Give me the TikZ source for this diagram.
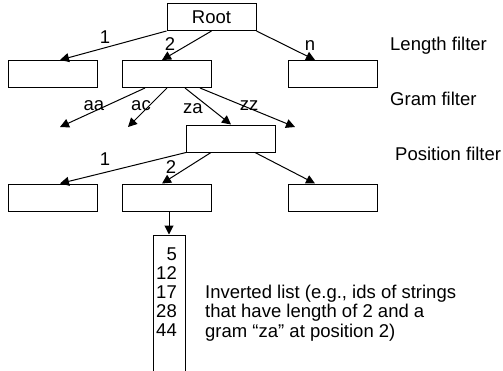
\documentclass[tikz,border=0pt]{standalone}
\usepackage{fontspec}
\setmainfont{Liberation Sans}
\usetikzlibrary{arrows.meta}
\begin{document}
\begin{tikzpicture}[x=1pt,y=-1pt,
  box/.style={draw,line width=1pt,minimum width=89pt,minimum height=27pt,inner sep=0pt},
  lbl/.style={anchor=base,inner sep=0pt},
  arr/.style={line width=1pt,-{Triangle[length=9pt,width=9pt]}},
  font=\fontsize{18.5}{19.5}\selectfont]
  \useasboundingbox (0,0) rectangle (503,370);

  % filter nodes
  \node[box] (root) at (211.5,17) {Root};
  \node[box] (l1) at (52.5,74) {};
  \node[box] (l2) at (167,74) {};
  \node[box] (ln) at (332.5,74) {};
  \node[box] (pos) at (231,138.5) {};
  \node[box] (p1) at (52.5,197.5) {};
  \node[box] (p2) at (167,197.5) {};
  \node[box] (p3) at (332.5,197.5) {};
  \node[draw,line width=1pt,minimum width=32pt,minimum height=150pt] (list) at (169,310) {};

  % free ends of the gram arrows
  \coordinate (gaa) at (60,127);
  \coordinate (gac) at (128,127);
  \coordinate (gzz) at (295,127);

  \draw[arr] (root.south west) -- ([xshift=7.5pt]l1.north);
  \draw[arr] (root.south) -- ([xshift=-5pt]l2.north);
  \draw[arr] (root.south east) -- ([xshift=-17.5pt]ln.north);

  \draw[arr] ([xshift=-22pt]l2.south) -- (gaa);
  \draw[arr] (l2.south) -- (gac);
  \draw[arr] ([xshift=18pt]l2.south) -- (pos.north);
  \draw[arr] ([xshift=33pt]l2.south) -- (gzz);

  \draw[arr] (pos.south west) -- ([xshift=7.5pt]p1.north);
  \draw[arr] ([xshift=-20pt]pos.south) -- ([xshift=-5pt]p2.north);
  \draw[arr] ([xshift=24pt]pos.south) -- ([xshift=-17.5pt]p3.north);

  \draw[arr] (list.north |- p2.south) -- (list.north);

  % edge labels
  \node[lbl] (e1) at (105,43) {1};
  \node[lbl] (e2) at (170,50) {2};
  \node[lbl] (en) at (310,50) {n};
  \node[lbl] (eaa) at (94,110) {aa};
  \node[lbl] (eac) at (141,110) {ac};
  \node[lbl] (eza) at (193,113) {za};
  \node[lbl] (ezz) at (249,110) {zz};
  \node[lbl] (f1) at (105,165) {1};
  \node[lbl] (f2) at (171,173) {2};

  % filter names
  \node[lbl,anchor=base west] (lenf) at (390,50) {Length filter};
  \node[lbl,anchor=base west] (gramf) at (390,105) {Gram filter};
  \node[lbl,anchor=base west] (posf) at (395,160) {Position filter};

  % inverted list
  \foreach \n [count=\i] in {5,12,17,28,44}
    \node[lbl,anchor=base east] (id\i) at (177,241+19*\i) {\n};
  \node[lbl,anchor=base west,align=left] (note) at (205,337)
    {Inverted list (e.g., ids of strings\\that have length of 2 and a\\gram “za” at position 2)};
\end{tikzpicture}
\end{document}
